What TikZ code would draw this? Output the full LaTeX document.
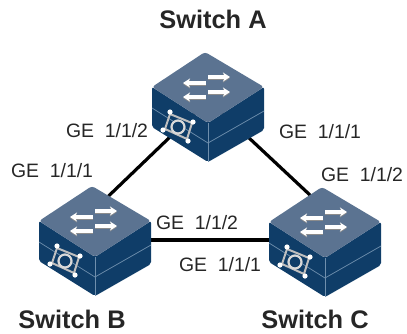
\documentclass[tikz,border=0pt]{standalone}
\usepackage{fontspec}
\setmainfont{Liberation Sans}
\usetikzlibrary{arrows.meta}
\definecolor{swtop}{HTML}{5B7391}
\definecolor{swfront}{HTML}{0F3D68}
\definecolor{swedge}{HTML}{6F8FAD}
\tikzset{
	portlabel/.style={font=\fontsize{19.4}{22}\selectfont, color=black!85, inner sep=0pt},
	swlabel/.style={font=\fontsize{25.4}{30}\selectfont\bfseries, color=black!85, inner sep=0pt},
	link/.style={line width=3.2pt, color=black},
	swarrow/.style={line width=3.2pt, -{Stealth[length=7pt, width=9pt]}},
	switch/.pic={
		\fill[swfront, rounded corners=2pt] (-56, 0) -- (0, 36) -- (56, 0) -- (56, 43) -- (0, 75) -- (-56, 40) -- cycle;
		\fill[swtop, rounded corners=3pt] (-3, -35) -- (56, 0) -- (0, 36) -- (-56, 0) -- cycle;
		\draw[swedge, line width=0.7pt] (-56, 21) -- (0, 56) -- (56, 24);
		\draw[swedge, line width=0.5pt] (0, 36) -- (0, 75);
		\foreach \y in {-10, 5} {
			\draw[swarrow, black!45] (0, \y+1) -- (22, \y+1);
			\draw[swarrow, white] (0, \y) -- (22, \y);
		}
		\foreach \y in {-4, 10} {
			\draw[swarrow, black!45] (-2, \y+1) -- (-25, \y+1);
			\draw[swarrow, white] (-2, \y) -- (-25, \y);
		}
		% port icon
		\draw[black!25, line width=2pt] (-38, 27) -- (-16, 36) -- (-21, 52) -- (-43, 42) -- cycle;
		\fill[swfront] (-30, 40) circle (6.5);
		\draw[black!15, line width=2.2pt] (-30, 40) circle (6.5);
		\foreach \x/\y in {-38/25, -15/35, -20/54, -45/43}
			\fill[white] (\x, \y) circle (2.6);
	}
}

\begin{document}
\begin{tikzpicture}[x=1pt, y=-1pt]
	\useasboundingbox (0, 0) rectangle (407, 333);

	\coordinate (swA) at (208.5, 100);
	\coordinate (swB) at (94, 210);
	\coordinate (swC) at (326, 210);
	\coordinate (portB) at (140, 240);
	\coordinate (portC) at (285, 240);

	\draw[link] (swA) -- (swB);
	\draw[link] (swA) -- (swC);
	\draw[link] (portB) -- (portC);

	\pic at (208, 87) {switch};
	\pic at (95, 221) {switch};
	\pic at (325, 222) {switch};

	\node[swlabel] (nameA) at (213, 19) {Switch A};
	\node[swlabel] (nameB) at (72, 319) {Switch B};
	\node[swlabel] (nameC) at (315, 319) {Switch C};

	\node[portlabel] (portAB) at (107, 131) {GE\ \ 1/1/2};
	\node[portlabel] (portAC) at (320, 132) {GE\ \ 1/1/1};
	\node[portlabel] (portBA) at (52, 171) {GE\ \ 1/1/1};
	\node[portlabel] (portCA) at (362, 175) {GE\ \ 1/1/2};
	\node[portlabel] (portBC) at (197, 223) {GE\ \ 1/1/2};
	\node[portlabel] (portCB) at (220, 265) {GE\ \ 1/1/1};
\end{tikzpicture}
\end{document}
